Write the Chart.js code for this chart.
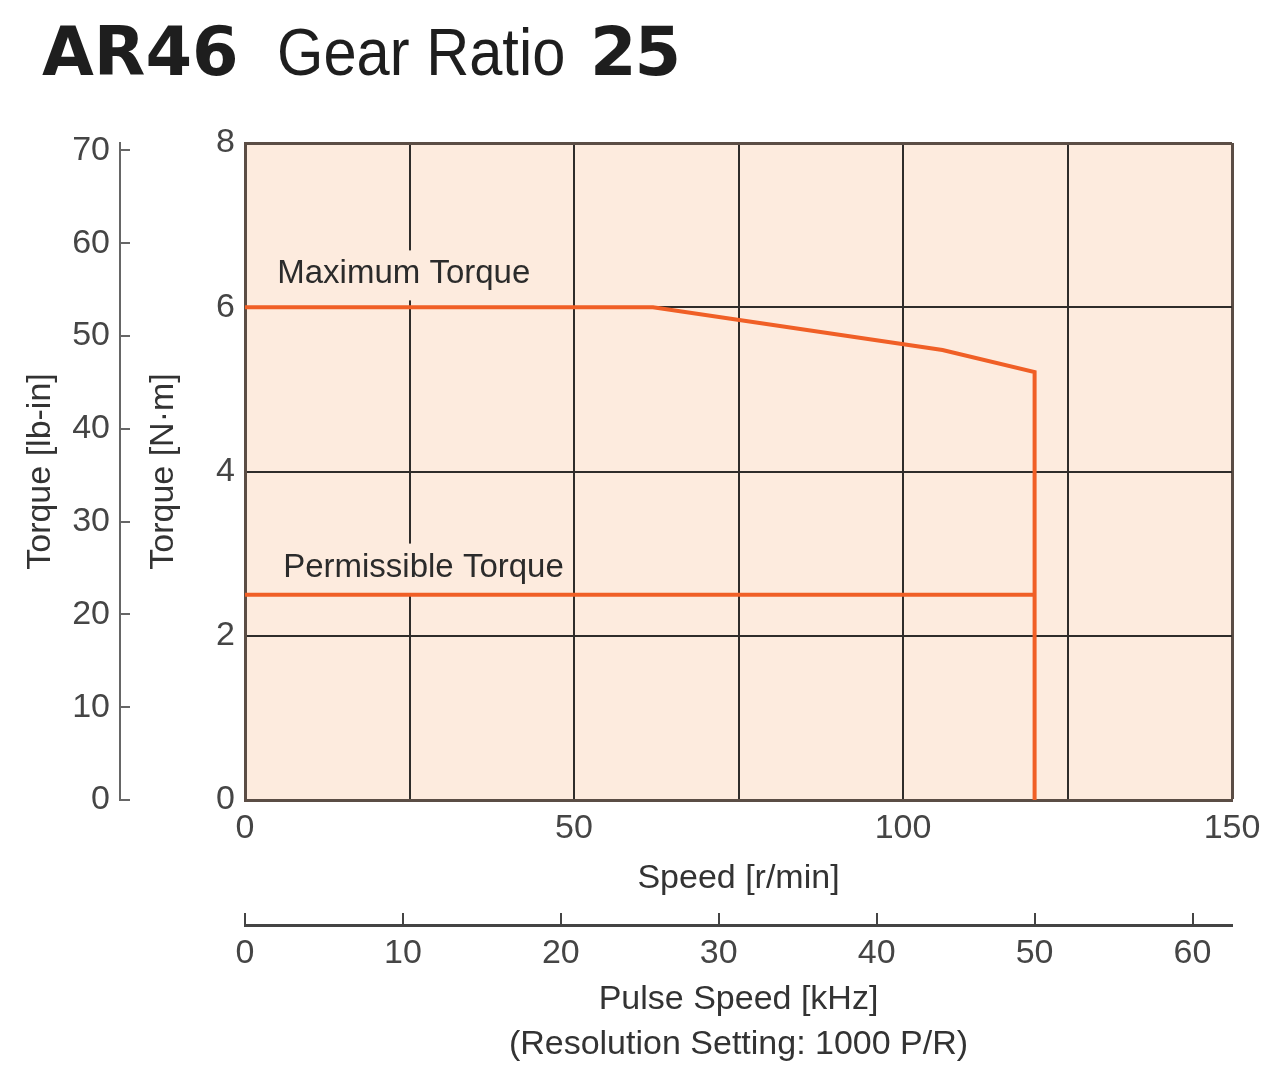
<!DOCTYPE html>
<html>
<head>
<meta charset="utf-8">
<title>AR46 Gear Ratio 25</title>
<script src="https://cdn.jsdelivr.net/npm/chart.js@4.4.1/dist/chart.umd.min.js"></script>
<style>
  body { margin: 0; background: #fff; }
  #wrap { position: relative; width: 1280px; height: 1086px; }
  #torqueChart { position: absolute; left: 0; top: 0; }
  .t { position: absolute; line-height: 1; color: #1e1e1e; white-space: nowrap; z-index: 2; }
  .model { left: 42px; top: 13px; font: bold 67px "DejaVu Sans", sans-serif; }
  .ratio { left: 277px; top: 13px; font: 67px "Liberation Sans", Arial, sans-serif;
           transform: scaleX(0.89); transform-origin: left top; }
  .num { left: 590px; top: 13px; font: bold 67px "DejaVu Sans", sans-serif; letter-spacing: -2px; }
</style>
</head>
<body>
<div id="wrap">
  <div class="t model">AR46</div>
  <div class="t ratio">Gear Ratio</div>
  <div class="t num">25</div>
  <canvas id="torqueChart" width="1280" height="1086"></canvas>
</div>

<script>
// values
const speedMax = [0, 62, 106, 120, 120];
const torqueMax = [6.0, 6.0, 5.48, 5.21, 0];
const speedPerm = [0, 120];
const torquePerm = [2.5, 2.5];

// ticks
const speedTicks = [0, 25, 50, 75, 100, 125, 150];
const speedLabels = ['0', '', '50', '', '100', '', '150'];
const nmTicks = [0, 2, 4, 6, 8];
const lbTicks = [0, 10, 20, 30, 40, 50, 60, 70];
const pulseTicks = [0, 10, 20, 30, 40, 50, 60];

const NM_TO_LBIN = 8.8507;
const PULSE_MAX = 62.5; // 150 r/min x 25 / 60 at 1000 P/R

const ORANGE = 'rgb(240,95,38)';
const PLOT_BG = '#fdebde';
const GRID = '#2f2c2a';
const FRAME = '#5b4d45';
const FS = 34;

// curve labels, in data units
const curveLabels = [
    { text: 'Maximum Torque', x: 4.9, y: 6.4 },
    { text: 'Permissible Torque', x: 5.8, y: 2.83 }
];

function pts(xs, ys) {
    return xs.map((x, i) => ({ x: x, y: ys[i] }));
}

const plotBackground = {
    id: 'plotBackground',
    beforeDraw(chart) {
        const { ctx, chartArea: a } = chart;
        ctx.save();
        ctx.fillStyle = PLOT_BG;
        ctx.fillRect(a.left, a.top, a.right - a.left, a.bottom - a.top);
        ctx.restore();
    }
};

const labelPlugin = {
    id: 'curveText',
    beforeDatasetsDraw(chart) {
        const { ctx, scales } = chart;
        ctx.save();
        ctx.font = '33px "Liberation Sans", Arial, sans-serif';
        ctx.textBaseline = 'middle';
        curveLabels.forEach(l => {
            const px = scales.x.getPixelForValue(l.x);
            const py = scales.y.getPixelForValue(l.y);
            const w = ctx.measureText(l.text).width;
            ctx.fillStyle = PLOT_BG;
            ctx.fillRect(px - 4, py - 24, w + 8, 50);
            ctx.fillStyle = '#2b2b2b';
            ctx.fillText(l.text, px, py);
        });
        ctx.restore();
    }
};

Chart.defaults.font.family = '"Liberation Sans", Arial, sans-serif';
Chart.defaults.color = '#454545';

new Chart(document.getElementById('torqueChart'), {
    type: 'scatter',
    data: {
        datasets: [
            {
                label: 'Maximum Torque',
                data: pts(speedMax, torqueMax),
                showLine: true,
                borderColor: ORANGE,
                borderWidth: 4,
                pointRadius: 0,
                xAxisID: 'x',
                yAxisID: 'y'
            },
            {
                label: 'Permissible Torque',
                data: pts(speedPerm, torquePerm),
                showLine: true,
                borderColor: ORANGE,
                borderWidth: 4,
                pointRadius: 0,
                xAxisID: 'x',
                yAxisID: 'y'
            }
        ]
    },
    options: {
        responsive: false,
        animation: false,
        layout: { padding: { left: 0, top: 143, right: 48, bottom: 0 } },
        plugins: { legend: { display: false }, tooltip: { enabled: false } },
        scales: {
            x: {
                type: 'linear', axis: 'x', position: 'bottom', weight: 1,
                min: 0, max: 150,
                afterBuildTicks: s => { s.ticks = speedTicks.map(v => ({ value: v })); },
                afterFit: s => { s.height = 125; },
                ticks: {
                    autoSkip: false, maxRotation: 0, padding: 8,
                    font: { size: FS },
                    callback: (v, i) => speedLabels[i]
                },
                grid: {
                    drawTicks: false,
                    color: c => (c.tick && c.tick.value === 150 ? FRAME : GRID),
                    lineWidth: c => (c.tick && c.tick.value === 150 ? 3 : 2)
                },
                border: { color: FRAME, width: 3 },
                title: {
                    display: true, text: 'Speed [r/min]', color: '#333',
                    font: { size: FS }, padding: { top: 0, bottom: 26 }
                }
            },
            pulse: {
                type: 'linear', axis: 'x', position: 'bottom', weight: 2,
                min: 0, max: PULSE_MAX,
                afterBuildTicks: s => { s.ticks = pulseTicks.map(v => ({ value: v })); },
                afterFit: s => { s.height = 161; },
                ticks: { autoSkip: false, maxRotation: 0, padding: 20, font: { size: FS } },
                grid: { drawOnChartArea: false, drawTicks: true, tickLength: -12, color: '#444', lineWidth: 2 },
                border: { color: '#444', width: 3 },
                title: {
                    display: true, color: '#333',
                    text: ['Pulse Speed [kHz]', '(Resolution Setting: 1000 P/R)'],
                    font: { size: FS, lineHeight: 1.32 }, padding: { top: 0, bottom: 19 }
                }
            },
            y: {
                type: 'linear', axis: 'y', position: 'left', weight: 1,
                min: 0, max: 8,
                afterBuildTicks: s => { s.ticks = nmTicks.map(v => ({ value: v })); },
                afterFit: s => { s.width = 125; },
                ticks: { padding: 10, font: { size: FS } },
                grid: {
                    drawTicks: false,
                    color: c => (c.tick && c.tick.value === 8 ? FRAME : GRID),
                    lineWidth: c => (c.tick && c.tick.value === 8 ? 3 : 2)
                },
                border: { color: FRAME, width: 3 },
                title: {
                    display: true, text: 'Torque [N·m]', color: '#333',
                    font: { size: FS }, padding: { top: 23, bottom: 0 }
                }
            },
            yLb: {
                type: 'linear', axis: 'y', position: 'left', weight: 2,
                min: 0, max: 8 * NM_TO_LBIN,
                afterBuildTicks: s => { s.ticks = lbTicks.map(v => ({ value: v })); },
                afterFit: s => { s.width = 120; },
                ticks: { padding: 20, font: { size: FS } },
                grid: { drawOnChartArea: false, drawTicks: true, tickLength: -10, color: '#666', lineWidth: 2 },
                border: { color: '#666', width: 2 },
                title: {
                    display: true, text: 'Torque [lb-in]', color: '#333',
                    font: { size: FS }, padding: { top: 20, bottom: 0 }
                }
            }
        }
    },
    plugins: [plotBackground, labelPlugin]
});
</script>
</body>
</html>
